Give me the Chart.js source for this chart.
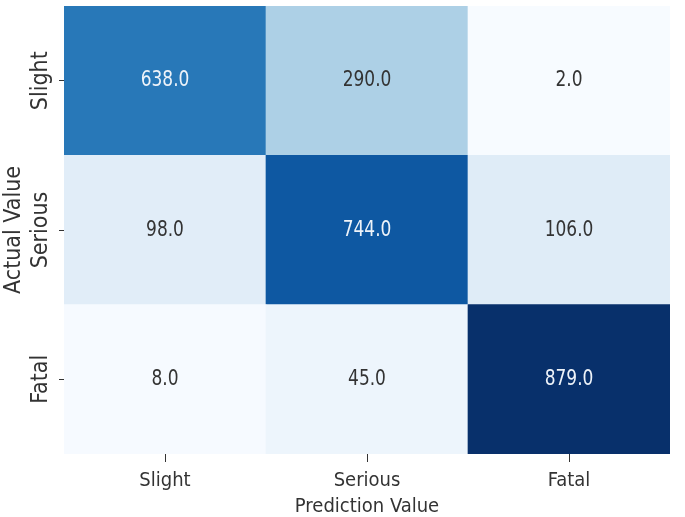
<!DOCTYPE html>
<html>
<head>
<meta charset="utf-8">
<script src="https://cdn.jsdelivr.net/npm/chart.js@4.4.1/dist/chart.umd.min.js"></script>
<style>
  html, body { margin: 0; padding: 0; background: #fff; }
</style>
</head>
<body>
<canvas id="heat" width="685" height="517"></canvas>
<script>
// confusion matrix: rows = actual, columns = predicted
const predicted = ['Slight', 'Serious', 'Fatal'];
const actual = ['Slight', 'Serious', 'Fatal'];
const rowSlight = [638, 290, 2];
const rowSerious = [98, 744, 106];
const rowFatal = [8, 45, 879];

const FONT = '"DejaVu Sans Condensed", "DejaVu Sans", sans-serif';
const TEXT = '#333333';

// matplotlib "Blues" stops
const blues = [
  [247, 251, 255], [222, 235, 247], [198, 219, 239], [158, 202, 225],
  [107, 174, 214], [66, 146, 198], [33, 113, 181], [8, 81, 156], [8, 48, 107]
];
const allVals = rowSlight.concat(rowSerious, rowFatal);
const vmin = Math.min(...allVals);
const vmax = Math.max(...allVals);

function bluesRgb(v) {
  let t = (v - vmin) / (vmax - vmin) * (blues.length - 1);
  let i = Math.min(Math.floor(t), blues.length - 2);
  let f = t - i;
  return blues[i].map((c, k) => Math.round(c + (blues[i + 1][k] - c) * f));
}
function cellColor(v) {
  const c = bluesRgb(v);
  return 'rgb(' + c.join(',') + ')';
}
function lum(c) {
  const l = c.map(x => {
    x = x / 255;
    return x <= 0.03928 ? x / 12.92 : Math.pow((x + 0.055) / 1.055, 2.4);
  });
  return 0.2126 * l[0] + 0.7152 * l[1] + 0.0722 * l[2];
}

// stacked from the bottom: Fatal, Serious, Slight
const rows = [
  { name: 'Fatal', vals: rowFatal },
  { name: 'Serious', vals: rowSerious },
  { name: 'Slight', vals: rowSlight }
];

const datasets = rows.map(r => ({
  label: r.name,
  data: r.vals.map(() => 1),
  cellValues: r.vals,
  backgroundColor: r.vals.map(cellColor),
  borderWidth: 0,
  barPercentage: 1,
  categoryPercentage: 1
}));

const cellLabels = {
  id: 'cellLabels',
  afterDatasetsDraw(chart) {
    const ctx = chart.ctx;
    chart.data.datasets.forEach((ds, di) => {
      chart.getDatasetMeta(di).data.forEach((bar, i) => {
        const v = ds.cellValues[i];
        ctx.save();
        ctx.translate(bar.x, (bar.y + bar.base) / 2);
        ctx.scale(0.86, 1);  // the source image is a bit squeezed sideways
        ctx.font = '22px ' + FONT;
        ctx.textAlign = 'center';
        ctx.textBaseline = 'middle';
        ctx.fillStyle = lum(bluesRgb(v)) > 0.408 ? TEXT : '#eef3f9';
        ctx.fillText(v.toFixed(1), 0, 0);
        ctx.restore();
      });
    });
  }
};

// rotated row labels on the y axis
const rowLabels = {
  id: 'rowLabels',
  afterDraw(chart) {
    const ctx = chart.ctx;
    const y = chart.scales.y;
    ctx.save();
    ctx.font = '23px ' + FONT;
    ctx.fillStyle = TEXT;
    ctx.textAlign = 'center';
    ctx.textBaseline = 'middle';
    actual.forEach((name, i) => {
      const py = y.getPixelForValue(actual.length - i - 0.5);
      ctx.save();
      ctx.translate(41, py);
      ctx.rotate(-Math.PI / 2);
      ctx.fillText(name, 0, 0);
      ctx.restore();
    });
    ctx.restore();
  }
};

new Chart(document.getElementById('heat'), {
  type: 'bar',
  data: { labels: predicted, datasets },
  options: {
    responsive: false,
    animation: false,
    devicePixelRatio: 1,
    layout: { padding: { top: 6, right: 15, left: 0, bottom: 0 } },
    plugins: { legend: { display: false }, tooltip: { enabled: false } },
    scales: {
      x: {
        stacked: true,
        offset: true,
        grid: { drawOnChartArea: false, drawTicks: true, tickLength: 8, offset: false, color: '#333' },
        border: { display: false },
        ticks: { color: TEXT, font: { family: FONT, size: 20 }, padding: 7, maxRotation: 0 },
        title: { display: true, text: 'Prediction Value', color: TEXT, font: { family: FONT, size: 20, lineHeight: 1 }, padding: { top: 0, bottom: 0 } },
        afterFit: s => { s.height = 63; }
      },
      y: {
        stacked: true,
        min: 0,
        max: 3,
        afterBuildTicks: s => { s.ticks = [0.5, 1.5, 2.5].map(v => ({ value: v })); },
        ticks: { display: false },
        grid: { drawOnChartArea: false, drawTicks: true, tickLength: 5, color: '#333' },
        border: { display: false },
        title: { display: true, text: 'Actual Value', color: TEXT, font: { family: FONT, size: 23 }, padding: { top: 0, bottom: 0 } },
        afterFit: s => { s.width = 64; }
      }
    }
  },
  plugins: [cellLabels, rowLabels]
});
</script>
</body>
</html>
